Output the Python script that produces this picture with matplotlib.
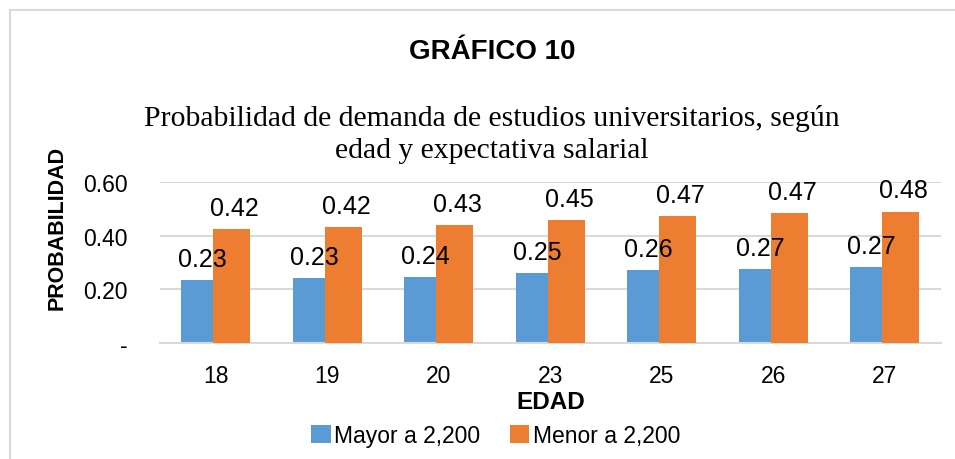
import numpy as np
import matplotlib
matplotlib.use("Agg")
import matplotlib.pyplot as plt
from matplotlib.patches import Rectangle

# datos
edades = ["18", "19", "20", "23", "25", "26", "27"]
mayor = [0.236, 0.243, 0.248, 0.262, 0.274, 0.278, 0.285]
menor = [0.425, 0.433, 0.441, 0.461, 0.476, 0.484, 0.491]
etiq_mayor = ["0.23", "0.23", "0.24", "0.25", "0.26", "0.27", "0.27"]
etiq_menor = ["0.42", "0.42", "0.43", "0.45", "0.47", "0.47", "0.48"]
yticks = [0, 0.2, 0.4, 0.6]
yticklabels = ["-", "0.20", "0.40", "0.60"]

plt.rcParams["font.family"] = ["Liberation Sans", "DejaVu Sans"]

fig = plt.figure(figsize=(9.55, 4.6), dpi=100)
ax = fig.add_axes([0.1675, 0.252, 0.8175, 0.3495])

x = np.arange(len(edades))
w = 0.332
b1 = ax.bar(x - 0.144, mayor, w, color="#5b9bd5", label="Mayor a 2,200", zorder=2)
b2 = ax.bar(x + 0.144, menor, w, color="#ed7d31", label="Menor a 2,200", zorder=3)

for i in range(len(edades)):
    ax.annotate(etiq_mayor[i], (x[i] - 0.144, mayor[i]), xytext=(2, 6.5),
                textcoords="offset points", ha="center", va="bottom",
                fontsize=18, zorder=5)
    ax.annotate(etiq_menor[i], (x[i] + 0.144, menor[i]), xytext=(2, 6.5),
                textcoords="offset points", ha="center", va="bottom",
                fontsize=18, zorder=5)

ax.set_xlim(-0.5, len(edades) - 0.5)
ax.set_ylim(0, 0.6)
ax.set_xticks(x)
ax.set_xticklabels(edades, fontsize=16.5)
ax.set_yticks(yticks)
ax.set_yticklabels(yticklabels, fontsize=16.5)
ax.tick_params(length=0)
ax.tick_params(axis="x", pad=15)
ax.tick_params(axis="y", pad=23)
ax.grid(axis="y", color="#d9d9d9", lw=1.5, zorder=0)
for s in ["top", "right", "left"]:
    ax.spines[s].set_visible(False)
ax.spines["bottom"].set_color("#d9d9d9")
ax.spines["bottom"].set_linewidth(1.5)

ax.set_xlabel("EDAD", fontsize=17.5, fontweight="bold", labelpad=2)
fig.text(0.060, 0.504, "PROBABILIDAD", rotation=90, ha="center", va="center",
         fontsize=15.5, fontweight="bold")

fig.text(0.515, 0.887, "GRÁFICO 10", ha="center", va="center",
         fontsize=20, fontweight="bold")
fig.text(0.515, 0.708,
         "Probabilidad de demanda de estudios universitarios, según\nedad y expectativa salarial",
         ha="center", va="center", fontsize=21.3, family="Liberation Serif",
         linespacing=1.3)

fig.legend(handles=[b1, b2], loc="center", bbox_to_anchor=(0.519, 0.052), ncol=2,
           frameon=False, fontsize=16.5, handlelength=0.85, handleheight=0.85,
           handletextpad=0.15, columnspacing=1.3, borderpad=0)

# marco del grafico
fig.patches.append(Rectangle((10 / 955, -0.1), 1.2, 0.1 + 1 - 11 / 460,
                             transform=fig.transFigure, fill=False,
                             edgecolor="#d9d9d9", lw=1.5))

fig.savefig("out.png", dpi=100)
